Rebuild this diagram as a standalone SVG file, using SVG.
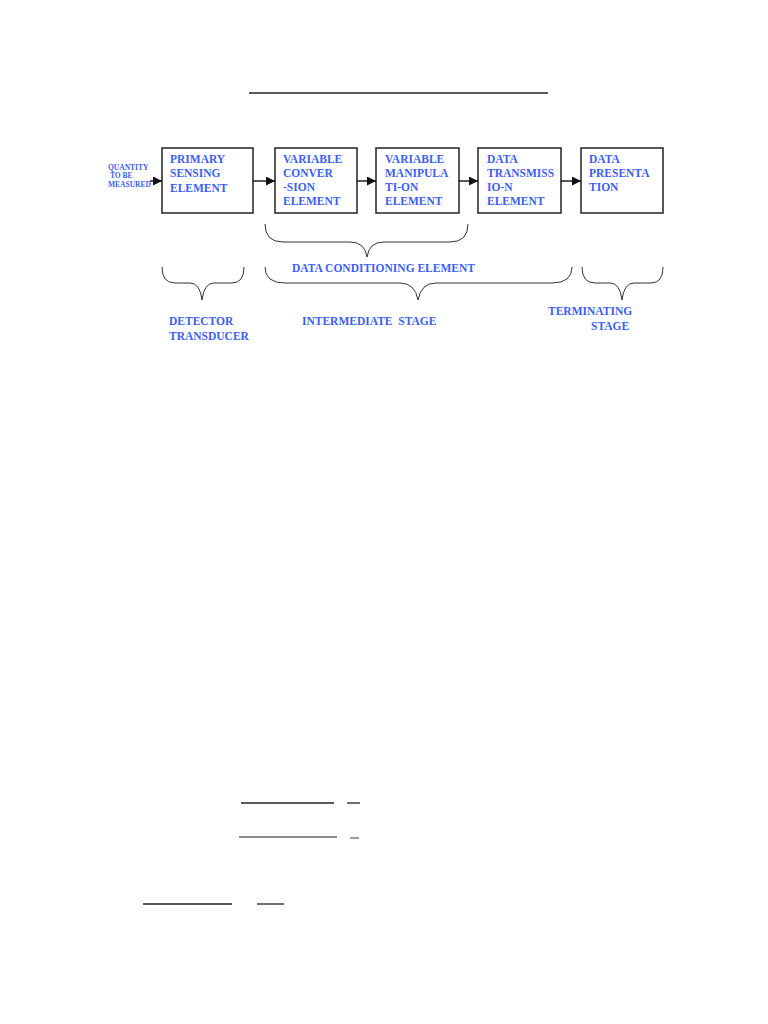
<svg xmlns="http://www.w3.org/2000/svg" width="768" height="1024" viewBox="0 0 768 1024">
<style>
.box{fill:#fff;stroke:#222;stroke-width:1.5}
.t{font-family:"Liberation Serif","Times New Roman",serif;font-weight:bold;font-size:11.5px;fill:#3d5ef7}
.s{font-family:"Liberation Serif","Times New Roman",serif;font-weight:bold;font-size:7.5px;fill:#3d5ef7}
.c{stroke:#111;stroke-width:1.4;fill:none}
.b{stroke:#333;stroke-width:1;fill:none}
.r{stroke:#222;stroke-width:1.3}
</style>
<defs>
<marker id="ah" viewBox="0 0 10 10" refX="10" refY="5" markerWidth="9" markerHeight="9" markerUnits="userSpaceOnUse" orient="auto">
<path d="M0,0 L10,5 L0,10 z" fill="#111"/>
</marker>
</defs>
<rect width="768" height="1024" fill="#fff"/>
<line class="r" x1="249" y1="93" x2="548" y2="93"/>
<g id="input"><text class="s"><tspan x="108" y="170">QUANTITY</tspan><tspan x="110" y="178">TO BE</tspan><tspan x="108" y="187">MEASURED</tspan></text></g>
<g id="n1"><rect class="box" x="162" y="148" width="91" height="65"/><text class="t"><tspan x="170" y="163">PRIMARY</tspan><tspan x="170" y="177">SENSING</tspan><tspan x="170" y="192">ELEMENT</tspan></text></g>
<g id="n2"><rect class="box" x="275" y="148" width="82" height="65"/><text class="t"><tspan x="283" y="163">VARIABLE</tspan><tspan x="283" y="177">CONVER</tspan><tspan x="283" y="191">-SION</tspan><tspan x="283" y="205">ELEMENT</tspan></text></g>
<g id="n3"><rect class="box" x="376" y="148" width="83" height="65"/><text class="t"><tspan x="385" y="163">VARIABLE</tspan><tspan x="385" y="177">MANIPULA</tspan><tspan x="385" y="191">TI-ON</tspan><tspan x="385" y="205">ELEMENT</tspan></text></g>
<g id="n4"><rect class="box" x="478" y="148" width="83" height="65"/><text class="t"><tspan x="487" y="163">DATA</tspan><tspan x="487" y="177">TRANSMISS</tspan><tspan x="487" y="191">IO-N</tspan><tspan x="487" y="205">ELEMENT</tspan></text></g>
<g id="n5"><rect class="box" x="581" y="148" width="82" height="65"/><text class="t"><tspan x="589" y="163">DATA</tspan><tspan x="589" y="177">PRESENTA</tspan><tspan x="589" y="191">TION</tspan></text></g>
<g id="connectors">
<line class="c" x1="150" y1="181" x2="162" y2="181" marker-end="url(#ah)"/>
<line class="c" x1="253" y1="181" x2="275" y2="181" marker-end="url(#ah)"/>
<line class="c" x1="357" y1="181" x2="376" y2="181" marker-end="url(#ah)"/>
<line class="c" x1="459" y1="181" x2="478" y2="181" marker-end="url(#ah)"/>
<line class="c" x1="561" y1="181" x2="581" y2="181" marker-end="url(#ah)"/>
</g>
<g id="braces">
<path class="b" d="M265,224 Q265,242 283,242 L350,242 Q365,242 367,257 Q369,242 384,242 L450,242 Q468,242 468,224"/>
<path class="b" d="M162,267 Q162,283 175,283 L190,283 Q200,283 202,300 Q204,283 214,283 L232,283 Q244,283 244,267"/>
<path class="b" d="M265,267 Q265,283 285,283 L400,283 Q415,283 418,300 Q421,283 436,283 L552,283 Q572,283 572,267"/>
<path class="b" d="M582,267 Q582,283 595,283 L610,283 Q620,283 622,300 Q624,283 634,283 L651,283 Q663,283 663,267"/>
</g>
<g id="labels">
<text class="t" x="292" y="272">DATA CONDITIONING ELEMENT</text>
<text class="t"><tspan x="169" y="325">DETECTOR</tspan><tspan x="169" y="340">TRANSDUCER</tspan></text>
<text class="t" x="302" y="325" xml:space="preserve">INTERMEDIATE  STAGE</text>
<text class="t"><tspan x="548" y="315">TERMINATING</tspan><tspan x="591" y="330">STAGE</tspan></text>
</g>
<g id="bottom">
<line class="r" x1="241" y1="803" x2="334" y2="803"/>
<line class="r" x1="347" y1="803" x2="360" y2="803"/>
<line x1="239" y1="837" x2="337" y2="837" stroke="#666" stroke-width="1.5"/>
<line x1="350" y1="838" x2="359" y2="838" stroke="#666" stroke-width="1.3"/>
<line class="r" x1="143" y1="904" x2="232" y2="904"/>
<line class="r" x1="257" y1="904" x2="284" y2="904"/>
</g>
</svg>
